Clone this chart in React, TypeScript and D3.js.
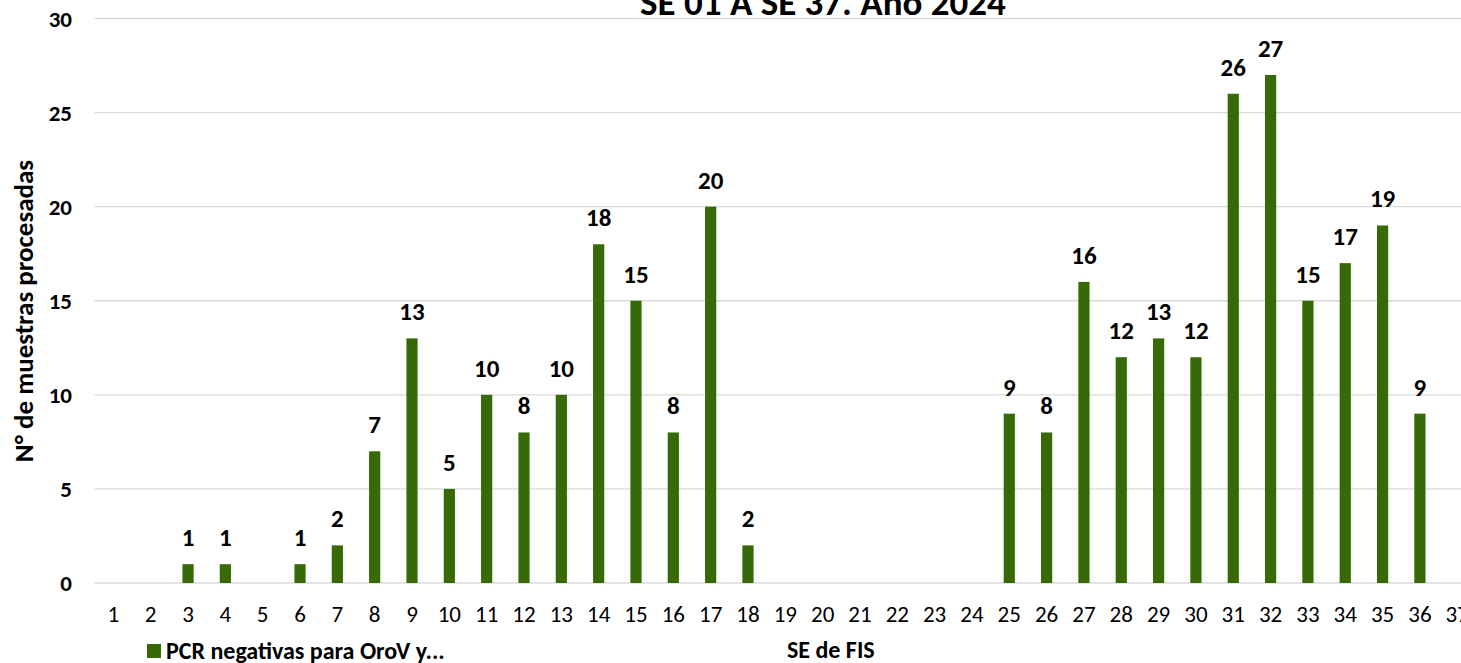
import React from 'react';
import * as d3 from 'd3';

// Weekly processed samples (SE 1..37), 2024
const weeks = d3.range(1, 38).map(String);
const samples = [
  0, 0, 1, 1, 0, 1, 2, 7, 13, 5,
  10, 8, 10, 18, 15, 8, 20, 2, 0, 0,
  0, 0, 0, 0, 9, 8, 16, 12, 13, 12,
  26, 27, 15, 17, 19, 9, 0,
];
const yTicks = [0, 5, 10, 15, 20, 25, 30];

const W = 1461;
const H = 663;
const PLOT = { left: 94.7, top: 18.5, bottom: 583, width: 37 * 37.33 };
const BAR = '#376a06';
const FONT = 'Carlito, Calibri, "Open Sans", "Noto Sans", sans-serif';

const App = () => {
  const x = d3.scaleBand().domain(weeks).range([PLOT.left, PLOT.left + PLOT.width]).paddingInner(0.7).paddingOuter(0.35);
  const y = d3.scaleLinear().domain([0, 30]).range([PLOT.bottom, PLOT.top]);
  const cx = (w: string) => (x(w) as number) + x.bandwidth() / 2;

  return (
    <svg width={W} height={H} style={{ position: 'absolute', left: 0, top: 0, background: '#fff' }} fontFamily={FONT}>
      {yTicks.map(t => (
        <g key={t}>
          <line x1={PLOT.left} x2={W} y1={y(t)} y2={y(t)} stroke="#d9d9d9" strokeWidth={1.3} />
          <text x={72} y={y(t)} dy="0.35em" textAnchor="end" fontSize={23} fontWeight="bold">{t}</text>
        </g>
      ))}

      {samples.map((v, i) => (
        v > 0 ? (
          <g key={i}>
            <rect x={x(weeks[i])} y={y(v)} width={x.bandwidth()} height={y(0) - y(v)} fill={BAR} />
            <text x={cx(weeks[i])} y={y(v) - 18} textAnchor="middle" fontSize={25} fontWeight="bold">{v}</text>
          </g>
        ) : null
      ))}

      {weeks.map(w => (
        <text key={w} x={cx(w)} y={622} textAnchor="middle" fontSize={23}>{w}</text>
      ))}

      <text x={823} y={15} textAnchor="middle" fontSize={37} fontWeight="bold">SE 01 A SE 37. Año 2024</text>

      <text transform="translate(33,311) rotate(-90)" textAnchor="middle" fontSize={27} fontWeight="bold">N° de muestras procesadas</text>

      <rect x={147} y={644} width={14} height={14} fill={BAR} />
      <text x={166} y={659} fontSize={24} fontWeight="bold">PCR negativas para OroV y...</text>
      <text x={787} y={658} fontSize={24} fontWeight="bold">SE de FIS</text>
    </svg>
  );
};

export default App;
